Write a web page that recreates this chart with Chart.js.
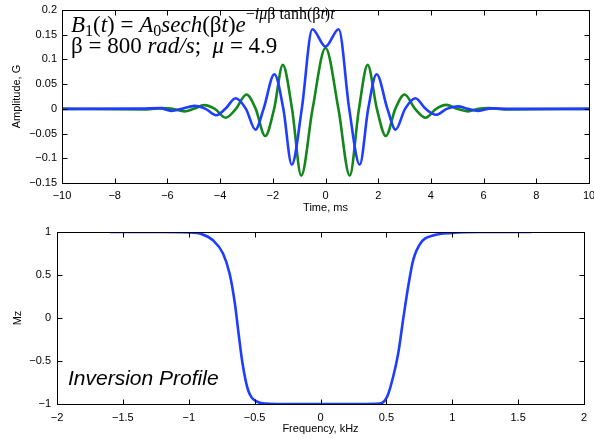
<!DOCTYPE html>
<html>
<head>
<meta charset="utf-8">
<script src="https://cdn.jsdelivr.net/npm/chart.js@4.4.0/dist/chart.umd.min.js"></script>
<style>
  html, body { margin: 0; padding: 0; background: #fff; }
  #wrap { position: relative; width: 594px; height: 439px; }
  canvas { position: absolute; left: 0; }
</style>
</head>
<body>
<div id="wrap">
  <canvas id="pulse" width="594" height="220" style="top:0px"></canvas>
  <canvas id="profile" width="594" height="219" style="top:220px"></canvas>
</div>
<script>
// values

var timeTicks = [-10, -8, -6, -4, -2, 0, 2, 4, 6, 8, 10];
var ampTicks = [-0.15, -0.1, -0.05, 0, 0.05, 0.1, 0.15, 0.2];
var freqTicks = [-2, -1.5, -1, -0.5, 0, 0.5, 1, 1.5, 2];
var mzTicks = [-1, -0.5, 0, 0.5, 1];

// blue curve (time ms, amplitude G)
var blueT = [-10, -7, -6.3, -5.85, -5.45, -4.97, -4.55, -4.15, -3.8, -3.41, -3.02, -2.66, -2.35,
  -1.94, -1.6, -1.28, -0.9, -0.5, 0, 0.5, 0.9, 1.3, 1.62, 1.94, 2.35, 2.66, 3.02, 3.41, 3.8,
  4.2, 4.6, 5.02, 5.4, 5.8, 6.3, 7, 10];
var blueA = [0, 0.0005, 0.0015, -0.004, 0, 0.006, 0, -0.013, 0, 0.0215, 0, -0.042, 0,
  0.070, 0, -0.113, 0, 0.161, 0.126, 0.161, 0, -0.113, 0, 0.070, 0, -0.042, 0, 0.0215, 0,
  -0.012, 0, 0.005, 0, -0.004, 0.001, 0, 0];

// green curve
var greenT = [-10, -6.8, -6.2, -5.8, -5.35, -5.0, -4.6, -4.2, -3.79, -3.4, -3.0, -2.65, -2.29,
  -1.95, -1.62, -1.27, -0.92, -0.49, 0, 0.49, 0.92, 1.27, 1.6, 1.95, 2.29, 2.65, 3.0, 3.4,
  3.8, 4.2, 4.58, 5.0, 5.4, 5.8, 6.2, 6.8, 10];
var greenA = [0, -0.001, 0.0015, 0, -0.005, 0, 0.0075, 0, -0.018, 0, 0.029, 0, -0.055,
  0, 0.089, 0, -0.135, 0, 0.123, 0, -0.135, 0, 0.089, 0, -0.055, 0, 0.029, 0,
  -0.018, 0, 0.008, 0, -0.005, 0, 0.0015, -0.001, 0];

// inversion profile (frequency kHz, Mz)
var freqK = [-1.6, -1.2, -1.0, -0.9, -0.816, -0.74, -0.69, -0.65, -0.625, -0.592, -0.55,
  -0.486, -0.41, -0.3, 0, 0.3, 0.45, 0.506, 0.552, 0.59, 0.627, 0.665, 0.703, 0.767,
  0.855, 1.0, 1.2, 1.6];
var mzVal = [1, 1, 0.995, 0.975, 0.904, 0.75, 0.517, 0.17, -0.14, -0.527, -0.837,
  -0.97, -0.995, -1, -1, -1, -0.995, -0.914, -0.68, -0.41, -0.02, 0.36, 0.67, 0.886,
  0.96, 0.99, 1, 1];

var BLUE = '#1f3dff';
var GREEN = '#13861c';
var SANS = '"Liberation Sans", Arial, sans-serif';
var SERIF = '"Liberation Serif", "Times New Roman", serif';

function pairs(xs, ys) {
  return xs.map(function (x, i) { return { x: x, y: ys[i] }; });
}

function fmt(v) {
  var s = String(Math.round(v * 1000) / 1000);
  return s.replace('-', '\u2212');
}

function fixedTicks(list) {
  return function (scale) {
    scale.ticks = list.map(function (v) { return { value: v }; });
  };
}

// matlab style box with inward ticks on all four sides
var boxPlugin = {
  id: 'box',
  afterDatasetsDraw: function (chart) {
    var ctx = chart.ctx, a = chart.chartArea;
    var xs = chart.scales.x, ys = chart.scales.y;
    var L = Math.round(a.left) + 0.5, R = Math.round(a.right) + 0.5;
    var T = Math.round(a.top) + 0.5, B = Math.round(a.bottom) + 0.5;
    ctx.save();
    ctx.strokeStyle = '#000';
    ctx.lineWidth = 1;
    ctx.beginPath();
    xs.ticks.forEach(function (t) {
      var px = Math.round(xs.getPixelForValue(t.value)) + 0.5;
      ctx.moveTo(px, B); ctx.lineTo(px, B - 5);
      ctx.moveTo(px, T); ctx.lineTo(px, T + 5);
    });
    ys.ticks.forEach(function (t) {
      var py = Math.round(ys.getPixelForValue(t.value)) + 0.5;
      ctx.moveTo(L, py); ctx.lineTo(L + 5, py);
      ctx.moveTo(R, py); ctx.lineTo(R - 5, py);
    });
    ctx.stroke();
    ctx.strokeRect(L, T, R - L, B - T);
    ctx.restore();
  }
};

function drawRuns(ctx, x, y, runs) {
  runs.forEach(function (r) {
    ctx.font = r[1];
    ctx.fillText(r[0], x, y + (r[2] || 0));
    x += ctx.measureText(r[0]).width;
  });
  return x;
}

var formulaPlugin = {
  id: 'formula',
  afterDraw: function (chart) {
    var ctx = chart.ctx;
    var it = 'italic 23px ' + SERIF, up = '23px ' + SERIF;
    var sIt = 'italic 16px ' + SERIF, sUp = '16px ' + SERIF;
    ctx.save();
    ctx.fillStyle = '#000';
    ctx.textBaseline = 'alphabetic';
    drawRuns(ctx, 71, 32, [
      ['B', it], ['1', sUp, 4], ['(', up], ['t', it], [')', up], [' = ', up],
      ['A', it], ['0', sUp, 4], ['sech', it], ['(', up], ['\u03b2', up], ['t', it], [')', up],
      ['e', it],
      ['\u2212', sUp, -13], ['i\u03bc', sIt, -13], ['\u03b2', sUp, -13], [' tanh', sUp, -13],
      ['(', sUp, -13], ['\u03b2', sUp, -13], ['t', sIt, -13], [')', sUp, -13], ['t', sIt, -13]
    ]);
    drawRuns(ctx, 71, 53, [
      ['\u03b2 = 800 ', up], ['rad/s', it], [';  ', up], ['\u03bc', it], [' = 4.9', up]
    ]);
    ctx.restore();
  }
};

var labelPlugin = {
  id: 'inversionLabel',
  afterDraw: function (chart) {
    var ctx = chart.ctx;
    ctx.save();
    ctx.fillStyle = '#000';
    ctx.font = 'italic 21px ' + SANS;
    ctx.fillText('Inversion Profile', 68, 165);
    ctx.restore();
  }
};

function axes(xMin, xMax, xTicks, xTitle, yMin, yMax, yTicks, yTitle, geo) {
  return {
    x: {
      type: 'linear', min: xMin, max: xMax,
      afterBuildTicks: fixedTicks(xTicks),
      afterFit: function (s) { s.height = geo.xh; s.paddingLeft = 0; s.paddingRight = 0; },
      grid: { display: false, drawTicks: false },
      border: { display: false },
      ticks: { color: '#000', font: { family: SANS, size: 11 }, padding: geo.xpad,
        maxRotation: 0, autoSkip: false, callback: fmt },
      title: { display: true, text: xTitle, color: '#000', font: { family: SANS, size: 11 },
        padding: { top: 0, bottom: geo.xtpad } }
    },
    y: {
      type: 'linear', min: yMin, max: yMax,
      afterBuildTicks: fixedTicks(yTicks),
      afterFit: function (s) { s.width = geo.yw; s.paddingTop = 0; s.paddingBottom = 0; },
      grid: { display: false, drawTicks: false },
      border: { display: false },
      ticks: { color: '#000', font: { family: SANS, size: 11 }, padding: geo.ypad,
        autoSkip: false, callback: fmt },
      title: { display: true, text: yTitle, color: '#000', font: { family: SANS, size: 11 },
        padding: { top: geo.ytpad, bottom: 0 } }
    }
  };
}

function lineSet(data, color) {
  return {
    data: data, borderColor: color, borderWidth: 2.6, pointRadius: 0,
    fill: false, cubicInterpolationMode: 'monotone'
  };
}

new Chart(document.getElementById('pulse'), {
  type: 'line',
  data: {
    datasets: [lineSet(pairs(blueT, blueA), BLUE), lineSet(pairs(greenT, greenA), GREEN)]
  },
  options: {
    responsive: false, animation: false, events: [],
    layout: { padding: { top: 10, right: 5, left: 0, bottom: 0 } },
    plugins: { legend: { display: false }, tooltip: { enabled: false } },
    scales: axes(-10, 10, timeTicks, 'Time, ms', -0.15, 0.2, ampTicks, 'Amplitude, G',
      { xh: 37, xpad: 6, xtpad: 5, yw: 62, ypad: 5, ytpad: 10 })
  },
  plugins: [boxPlugin, formulaPlugin]
});

new Chart(document.getElementById('profile'), {
  type: 'line',
  data: { datasets: [lineSet(pairs(freqK, mzVal), BLUE)] },
  options: {
    responsive: false, animation: false, events: [],
    layout: { padding: { top: 12, right: 10, left: 0, bottom: 0 } },
    plugins: { legend: { display: false }, tooltip: { enabled: false } },
    scales: axes(-2, 2, freqTicks, 'Frequency, kHz', -1, 1, mzTicks, 'Mz',
      { xh: 35, xpad: 7, xtpad: 3, yw: 57, ypad: 6, ytpad: 11 })
  },
  plugins: [boxPlugin, labelPlugin]
});
</script>
</body>
</html>
